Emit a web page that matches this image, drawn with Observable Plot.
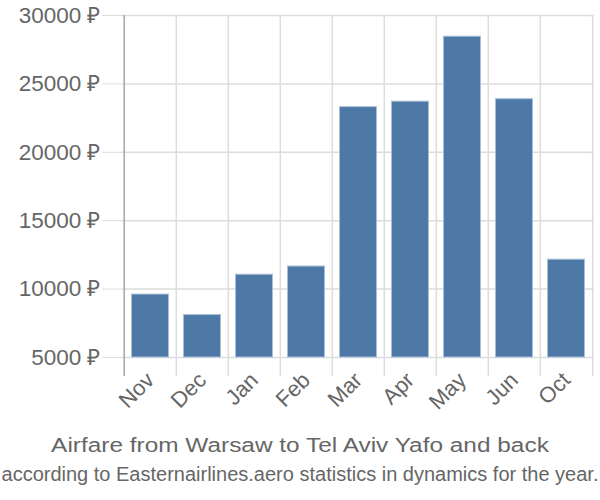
<!DOCTYPE html>
<html><head><meta charset="utf-8">
<script src="https://cdn.jsdelivr.net/npm/d3@7"></script>
<script src="https://cdn.jsdelivr.net/npm/@observablehq/plot@0.6"></script>
<style>
body{margin:0;background:#fff;font-family:"Liberation Sans",Arial,sans-serif;}
#chart svg{display:block;}
#title{width:600px;text-align:center;color:#666;font-size:20px;line-height:24px;margin-top:8px;white-space:nowrap;}
#title span{display:inline-block;transform:scaleX(1.22);transform-origin:center;}
#sub{width:600px;text-align:center;color:#666;font-size:20px;line-height:24px;margin-top:5px;white-space:nowrap;}
</style>
</head><body>
<div id="chart"></div>
<div id="title"><span>Airfare from Warsaw to Tel Aviv Yafo and back</span></div>
<div id="sub">according to Easternairlines.aero statistics in dynamics for the year.</div>
<script>
const months = ["Nov","Dec","Jan","Feb","Mar","Apr","May","Jun","Oct"];
const prices = [9600, 8100, 11050, 11650, 23300, 23700, 28450, 23880, 12150];
const yTicks = [5000, 10000, 15000, 20000, 25000, 30000];
const currency = "₽";

const data = months.map((m, i) => ({month: m, price: prices[i]}));
const W = 600, mL = 122, mR = 6;
const bw = (W - mL - mR) / months.length;

const chart = Plot.plot({
  width: W, height: 425,
  marginLeft: mL, marginRight: mR, marginTop: 15, marginBottom: 68,
  style: {fontFamily: "'Liberation Sans', Arial, sans-serif", fontSize: "22px", color: "#666", background: "#fff"},
  x: {type: "band", domain: months, padding: 0, label: null},
  y: {domain: [5000, 30000], label: null},
  marks: [
    Plot.ruleY(yTicks, {stroke: "#ddd", strokeWidth: 1.5}),
    Plot.ruleX(months, {x: d => d, dx: -bw / 2, y1: 30000, y2: 5000, insetBottom: -19, stroke: "#ddd", strokeWidth: 1.5}),
    Plot.ruleX([months[months.length - 1]], {x: d => d, dx: bw / 2, y1: 30000, y2: 5000, insetBottom: -19, stroke: "#ddd", strokeWidth: 1.5}),
    Plot.ruleX([months[0]], {x: d => d, dx: -bw / 2, y1: 30000, y2: 5000, insetBottom: -19, stroke: "#aaa", strokeWidth: 1.5}),
    Plot.barY(data, {x: "month", y1: 5000, y2: "price", fill: "#4e79a7", stroke: "#a9bdd6", strokeWidth: 1, insetLeft: 7.5, insetRight: 7.5}),
    Plot.axisY(yTicks, {tickSize: 20, tickPadding: 2, stroke: "#ddd", tickFormat: d => d + " " + currency, fill: "#666", fontSize: 22.5, label: null}),
    Plot.axisX({tickSize: 0, tickRotate: -45, tickPadding: 19, fill: "#666", fontSize: 22, label: null})
  ]
});
document.getElementById("chart").appendChild(chart);
</script>
</body></html>
